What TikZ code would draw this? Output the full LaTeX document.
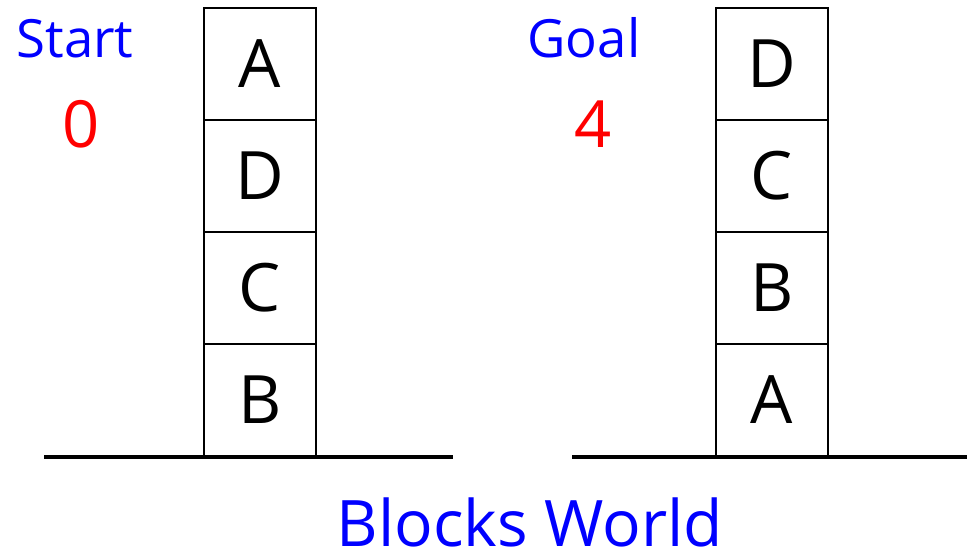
\documentclass[tikz,border=0pt]{standalone}
\usepackage{fontspec}
\setmainfont{Open Sans}
\usetikzlibrary{positioning}

\tikzset{
    block/.style={draw, line width=1.2pt, minimum width=2.24cm, minimum height=2.24cm,
        inner sep=0pt, outer sep=0pt, font=\fontsize{38}{40}\selectfont},
    ground/.style={line width=2.3pt},
    heading/.style={anchor=base, text=blue, font=\fontsize{30}{33}\selectfont},
    cost/.style={anchor=base, text=red, font=\fontsize{37}{40}\selectfont}
}

\begin{document}
\begin{tikzpicture}
    \useasboundingbox (0,0) rectangle (19.34,-11.02);

    % start stack
    \node[block] (sA) at (5.2,-1.28) {A};
    \node[block, below=0pt of sA] (sD) {D};
    \node[block, below=0pt of sD] (sC) {C};
    \node[block, below=0pt of sC] (sB) {B};
    \draw[ground] (0.88,-9.14) -- (9.06,-9.14);

    % goal stack
    \node[block] (gD) at (15.44,-1.28) {D};
    \node[block, below=0pt of gD] (gC) {C};
    \node[block, below=0pt of gC] (gB) {B};
    \node[block, below=0pt of gB] (gA) {A};
    \draw[ground] (11.44,-9.14) -- (19.34,-9.14);

    \node[heading] (start) at (1.5,-1.14) {Start};
    \node[cost] (startcost) at (1.62,-2.94) {0};
    \node[heading] (goal) at (11.68,-1.14) {Goal};
    \node[cost] (goalcost) at (11.86,-2.94) {4};

    \node[heading, font=\fontsize{36.5}{39}\selectfont] (title) at (10.6,-10.92) {Blocks World};
\end{tikzpicture}
\end{document}
